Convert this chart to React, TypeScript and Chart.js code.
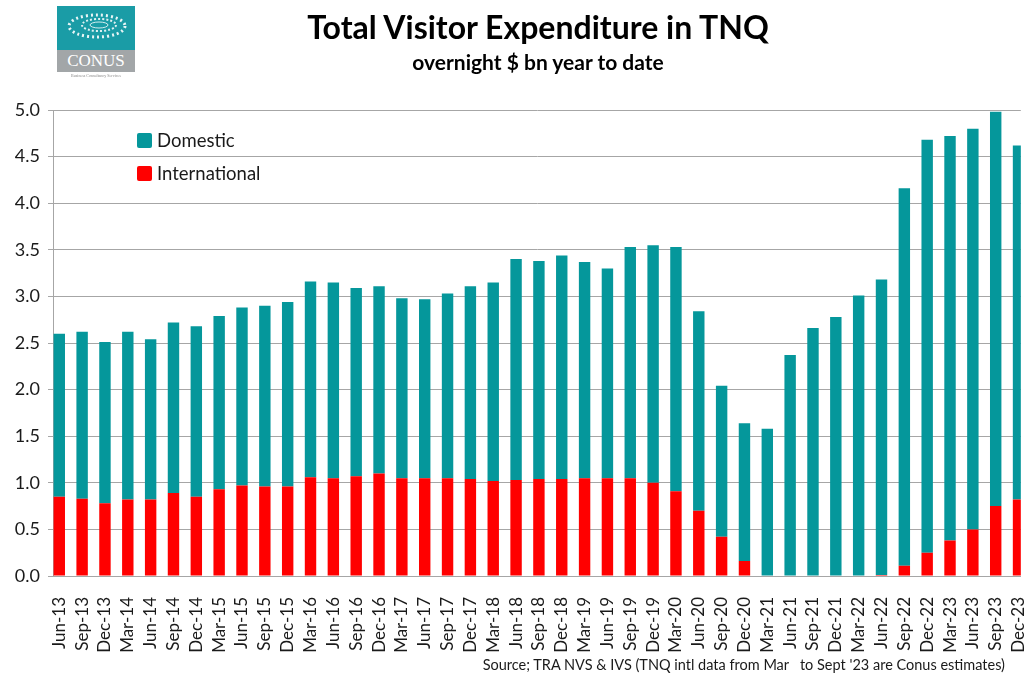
import React, { useEffect, useRef } from "react";
import { Chart, registerables } from "chart.js";

Chart.register(...registerables);

const categories = [
  "Jun-13", "Sep-13", "Dec-13", "Mar-14", "Jun-14", "Sep-14", "Dec-14", "Mar-15", "Jun-15", "Sep-15",
  "Dec-15", "Mar-16", "Jun-16", "Sep-16", "Dec-16", "Mar-17", "Jun-17", "Sep-17", "Dec-17", "Mar-18",
  "Jun-18", "Sep-18", "Dec-18", "Mar-19", "Jun-19", "Sep-19", "Dec-19", "Mar-20", "Jun-20", "Sep-20",
  "Dec-20", "Mar-21", "Jun-21", "Sep-21", "Dec-21", "Mar-22", "Jun-22", "Sep-22", "Dec-22", "Mar-23",
  "Jun-23", "Sep-23", "Dec-23",
];

const international = [
  0.85, 0.83, 0.78, 0.82, 0.82, 0.89, 0.85, 0.93, 0.97, 0.96,
  0.96, 1.06, 1.05, 1.07, 1.10, 1.05, 1.05, 1.05, 1.04, 1.02,
  1.03, 1.04, 1.04, 1.05, 1.05, 1.05, 1.00, 0.91, 0.70, 0.42,
  0.16, 0.0, 0.0, 0.0, 0.0, 0.0, 0.01, 0.11, 0.25, 0.38,
  0.50, 0.75, 0.82,
];

const domestic = [
  1.75, 1.79, 1.73, 1.80, 1.72, 1.83, 1.83, 1.86, 1.91, 1.94,
  1.98, 2.10, 2.10, 2.02, 2.01, 1.93, 1.92, 1.98, 2.07, 2.13,
  2.37, 2.34, 2.40, 2.32, 2.25, 2.48, 2.55, 2.62, 2.14, 1.62,
  1.48, 1.58, 2.37, 2.66, 2.78, 3.01, 3.17, 4.05, 4.43, 4.34,
  4.30, 4.23, 3.80,
];

const yTicks = [0, 0.5, 1.0, 1.5, 2.0, 2.5, 3.0, 3.5, 4.0, 4.5, 5.0];

const TEAL = "#05979b";
const RED = "#ff0000";
const GRID = "#a6a6a6";
const TEXT = "#1a1a1a";
const FONT = "Lato, 'Open Sans', sans-serif";

export default function App() {
  const canvasRef = useRef<HTMLCanvasElement | null>(null);

  useEffect(() => {
    if (!canvasRef.current) return;
    const chart = new Chart(canvasRef.current, {
      type: "bar",
      data: {
        datasets: [
          {
            label: "International",
            data: international.map((v, i) => ({ x: i, y: v })),
            backgroundColor: RED,
            borderWidth: 0,
            categoryPercentage: 1,
            barPercentage: 0.5,
          },
          {
            label: "Domestic",
            data: domestic.map((v, i) => ({ x: i, y: v })),
            backgroundColor: TEAL,
            borderWidth: 0,
            categoryPercentage: 1,
            barPercentage: 0.5,
          },
        ],
      },
      options: {
        animation: false,
        responsive: false,
        devicePixelRatio: 1,
        layout: { padding: { top: 110, right: 26, left: 0, bottom: 0 } },
        plugins: {
          legend: { display: false },
          title: { display: false },
          tooltip: { enabled: false },
        },
        scales: {
          x: {
            type: "linear",
            stacked: true,
            offset: false,
            bounds: "data",
            min: -0.275,
            max: 42.1,
            afterFit: (s: any) => {
              s.height = 102;
            },
            afterBuildTicks: (s: any) => {
              s.ticks = categories.map((_, i) => ({ value: i }));
            },
            grid: {
              offset: false,
              drawOnChartArea: false,
              drawTicks: false,
            },
            border: { display: true, color: GRID, width: 1 },
            ticks: {
              autoSkip: false,
              minRotation: 90,
              maxRotation: 90,
              padding: 21,
              color: TEXT,
              font: { family: FONT, size: 17 },
              callback: (v: any) => categories[Number(v)] ?? "",
            },
          },
          y: {
            stacked: true,
            min: 0,
            max: 5,
            afterFit: (s: any) => {
              s.width = 53;
            },
            afterBuildTicks: (s: any) => {
              s.ticks = yTicks.map((v) => ({ value: v }));
            },
            grid: {
              color: GRID,
              lineWidth: 1,
              drawTicks: true,
              tickLength: 5,
            },
            border: { display: true, color: GRID, width: 1 },
            ticks: {
              padding: 8,
              color: TEXT,
              font: { family: FONT, size: 18 },
              callback: (v: any) => Number(v).toFixed(1),
            },
          },
        },
      },
    });
    return () => chart.destroy();
  }, []);

  const legendItem = (color: string, label: string, top: number) => (
    <div style={{ position: "absolute", left: 137, top, display: "flex", alignItems: "center" }}>
      <div style={{ width: 15, height: 15, background: color, borderRadius: 2 }} />
      <span style={{ marginLeft: 5, fontSize: 18.5, color: TEXT, fontFamily: FONT, lineHeight: "15px" }}>{label}</span>
    </div>
  );

  return (
    <div
      style={{
        position: "fixed",
        left: 0,
        top: 0,
        width: 1029,
        height: 678,
        overflow: "hidden",
        background: "#fff",
        fontFamily: FONT,
      }}
    >
      <canvas
        ref={canvasRef}
        width={1060}
        height={678}
        style={{ position: "absolute", left: 0, top: 0, width: 1060, height: 678 }}
      />
      {/* logo */}
      <div style={{ position: "absolute", left: 57, top: 6, width: 78, height: 44, background: "#1a9ca6", overflow: "hidden" }}>
        <svg width="78" height="44" viewBox="0 0 78 44">
          <ellipse cx="40" cy="20" rx="28" ry="11" fill="none" stroke="#fff" strokeWidth="3" strokeDasharray="2 3" opacity="0.9" />
          <ellipse cx="42" cy="19" rx="17" ry="6" fill="none" stroke="#fff" strokeWidth="2" strokeDasharray="2 2" opacity="0.85" />
          <ellipse cx="42" cy="19" rx="9" ry="3" fill="none" stroke="#fff" strokeWidth="1" opacity="0.8" />
        </svg>
      </div>
      <div
        style={{
          position: "absolute",
          left: 57,
          top: 50,
          width: 78,
          height: 22,
          background: "#a2a6a8",
          color: "#fff",
          fontFamily: "'Liberation Serif', serif",
          fontSize: 17,
          lineHeight: "22px",
          textAlign: "center",
        }}
      >
        CONUS
      </div>
      <div
        style={{
          position: "absolute",
          left: 57,
          top: 73,
          width: 78,
          fontSize: 4,
          color: "#888",
          textAlign: "center",
          fontFamily: "'Liberation Serif', serif",
          whiteSpace: "nowrap",
        }}
      >
        Business Consultancy Services
      </div>
      {/* titles */}
      <div
        style={{
          position: "absolute",
          left: 238,
          width: 600,
          top: 8,
          textAlign: "center",
          fontSize: 32,
          fontWeight: 700,
          color: "#000",
          lineHeight: "38px",
        }}
      >
        Total Visitor Expenditure in TNQ
      </div>
      <div
        style={{
          position: "absolute",
          left: 238,
          width: 600,
          top: 49,
          textAlign: "center",
          fontSize: 21,
          fontWeight: 700,
          color: "#000",
          lineHeight: "26px",
        }}
      >
        overnight $ bn year to date
      </div>
      {legendItem(TEAL, "Domestic", 133)}
      {legendItem(RED, "International", 166)}
      <div
        style={{
          position: "absolute",
          right: 24,
          top: 656,
          fontSize: 14.5,
          color: TEXT,
          whiteSpace: "pre",
          lineHeight: "18px",
        }}
      >
        {"Source; TRA NVS & IVS (TNQ intl data from Mar   to Sept '23 are Conus estimates)"}
      </div>
    </div>
  );
}
